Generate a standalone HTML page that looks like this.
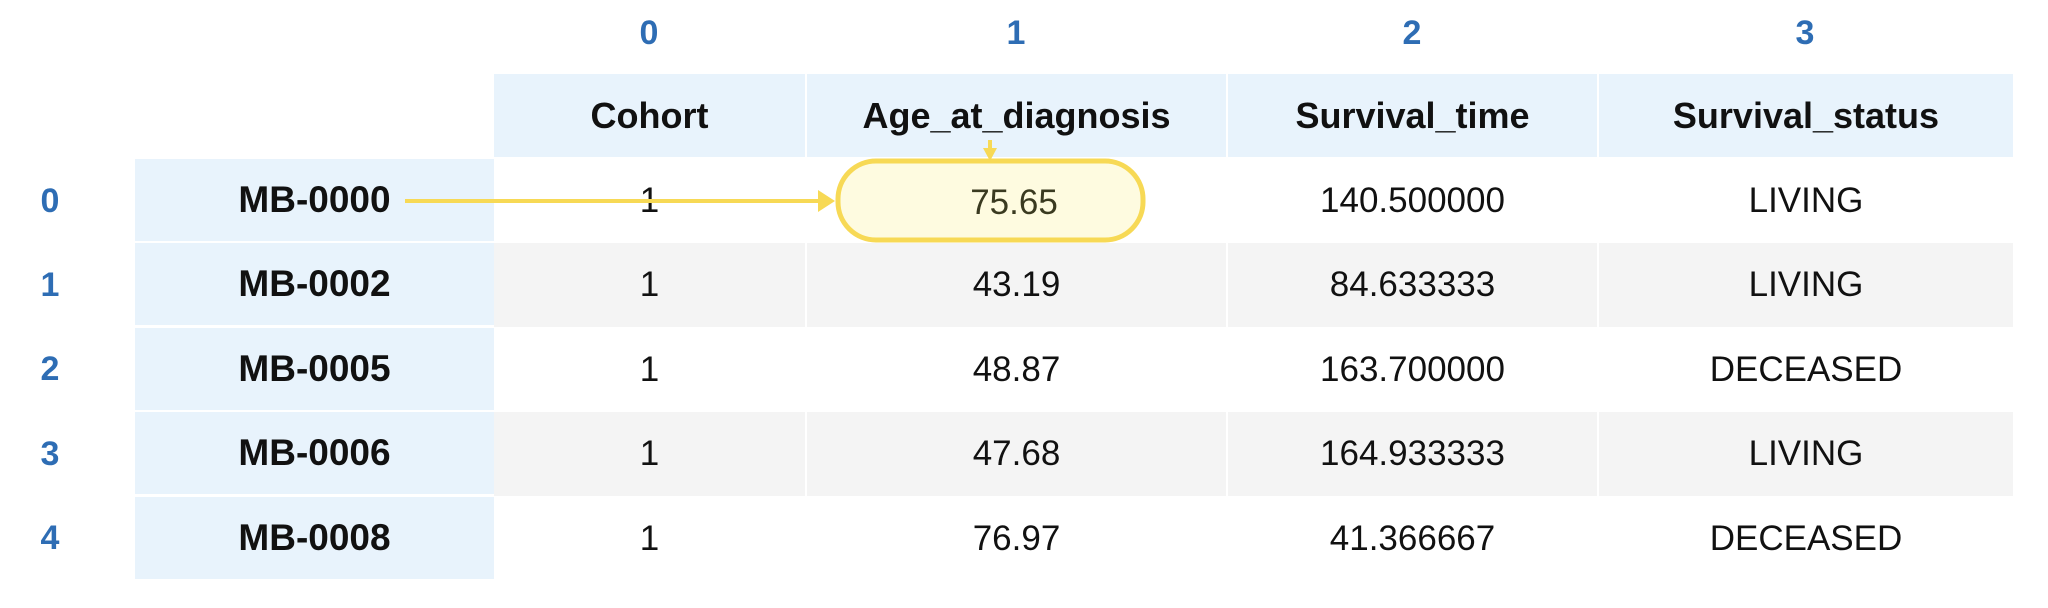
<!DOCTYPE html>
<html><head><meta charset="utf-8"><style>
body{margin:0;width:2048px;height:608px;background:#fff;position:relative;overflow:hidden;font-family:"Liberation Sans",Arial,sans-serif}
.a{position:absolute;display:flex;align-items:center;justify-content:center;box-sizing:border-box;font-size:35px;color:#111}
.ci{font-weight:bold;color:#2e6db4;font-size:34px}
.h{background:#e8f3fc;font-weight:bold;border-right:2px solid #fff;font-size:36px}
.ix{background:#e8f3fc;font-weight:bold;border-bottom:2px solid #fff;font-size:37px}
.g{background:#f4f4f4}
.c{border-right:2px solid #fff}
</style></head><body>
<div class="a ci" style="left:609px;top:10px;width:80px;height:46px">0</div>
<div class="a ci" style="left:976px;top:10px;width:80px;height:46px">1</div>
<div class="a ci" style="left:1372px;top:10px;width:80px;height:46px">2</div>
<div class="a ci" style="left:1765px;top:10px;width:80px;height:46px">3</div>

<div class="a h" style="left:494px;top:74px;width:313px;height:83px">Cohort</div>
<div class="a h" style="left:807px;top:74px;width:421px;height:83px">Age_at_diagnosis</div>
<div class="a h" style="left:1228px;top:74px;width:371px;height:83px">Survival_time</div>
<div class="a h" style="left:1599px;top:74px;width:414px;height:83px;border-right:none">Survival_status</div>

<div id="rows"></div>

<svg style="position:absolute;left:0;top:0" width="2048" height="608">
<rect x="838" y="161" width="305" height="79" rx="38" fill="#fefbe0" stroke="#f7d955" stroke-width="5"/>
<text x="1014" y="214" text-anchor="middle" font-family="Liberation Sans, Arial, sans-serif" font-size="35" fill="#3a3a20">75.65</text>
<line x1="405" y1="201" x2="818" y2="201" stroke="#f7d955" stroke-width="4"/>
<polygon points="818,190 835,201 818,212" fill="#f7d955"/>
<line x1="990" y1="140" x2="990" y2="150" stroke="#f7d955" stroke-width="4"/>
<polygon points="983,148 997,148 990,161" fill="#f7d955"/>
</svg>

<script>
const ids=["MB-0000","MB-0002","MB-0005","MB-0006","MB-0008"];
const cohort=["1","1","1","1","1"];
const age=["75.65","43.19","48.87","47.68","76.97"];
const stime=["140.500000","84.633333","163.700000","164.933333","41.366667"];
const status=["LIVING","LIVING","DECEASED","LIVING","DECEASED"];
const cols=[[494,313],[807,421],[1228,371],[1599,414]];
const host=document.getElementById('rows');
function mk(cls,l,t,w,h,txt){const d=document.createElement('div');d.className='a '+cls;d.style.cssText=`left:${l}px;top:${t}px;width:${w}px;height:${h}px`;d.textContent=txt;host.appendChild(d);return d;}
for(let i=0;i<ids.length;i++){
 const t=159+i*84.4;
 const ri=mk('ci',10,t,80,84,String(i));
 
 
 const ix=mk('ix',135,t,359,84,ids[i]);
 
 
 const vals=[cohort[i],(i===0?'':age[i]),stime[i],status[i]];
 const nm=['cohort','age','survival-time','survival-status'];
 for(let j=0;j<4;j++){
  const c=mk((i%2?'g ':'')+(j<3?'c':''),cols[j][0],t,cols[j][1],84,vals[j]);
  
  
 }
}
</script>
</body></html>
